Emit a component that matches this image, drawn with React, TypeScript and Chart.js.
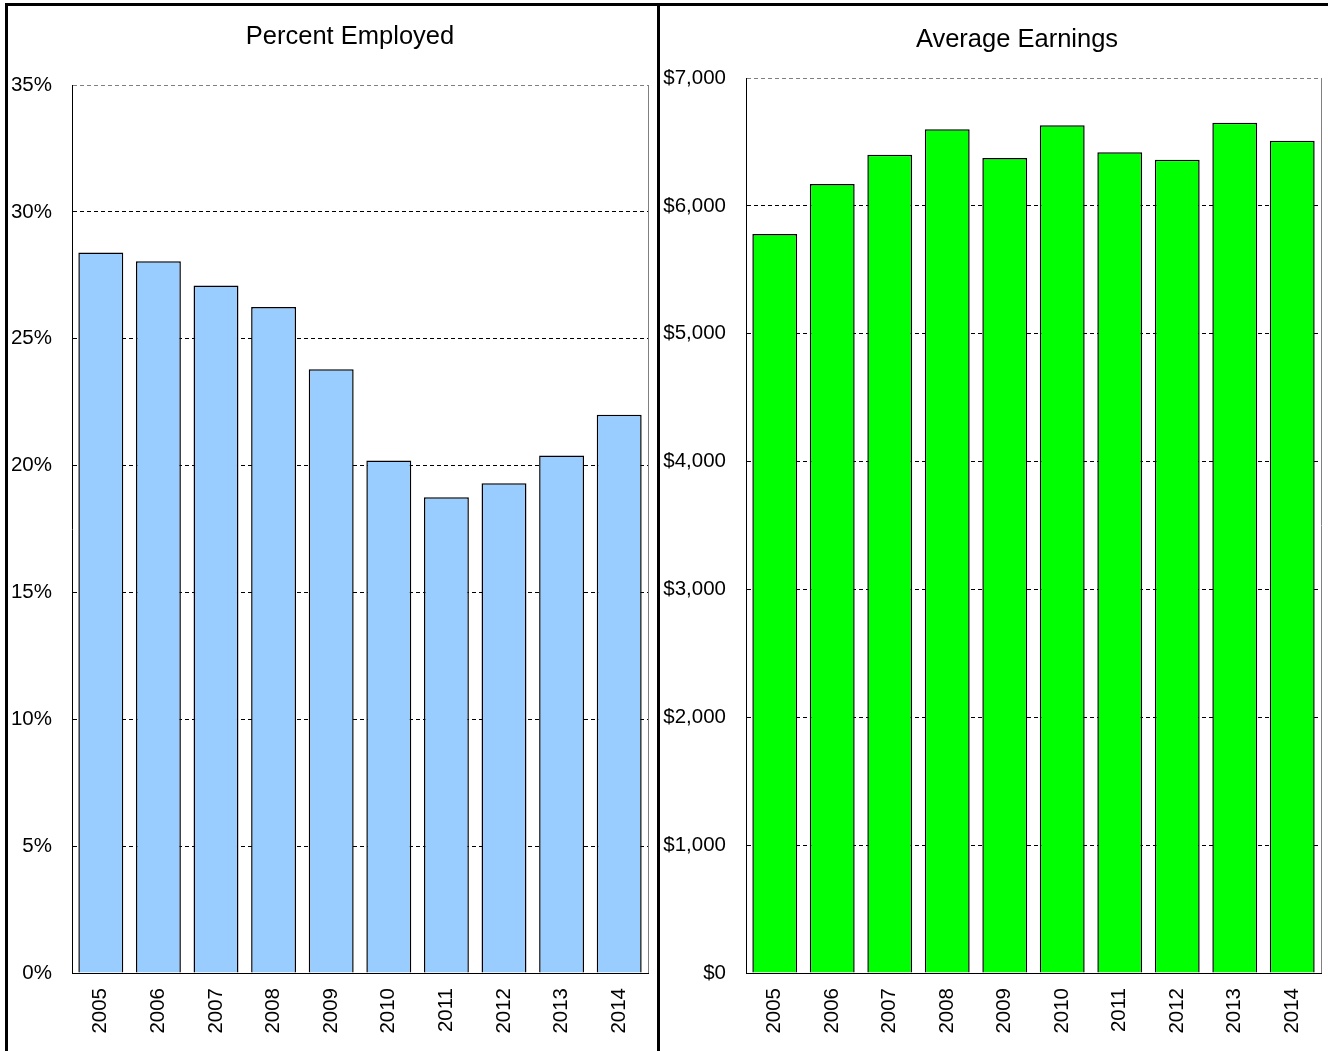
import React, { useEffect, useRef } from "react";
import { Chart, registerables } from "chart.js";

Chart.register(...registerables);

const years = ["2005", "2006", "2007", "2008", "2009", "2010", "2011", "2012", "2013", "2014"];
const percentEmployed = [28.4, 28.05, 27.1, 26.25, 23.8, 20.2, 18.75, 19.3, 20.4, 22.0];
const averageEarnings = [5780, 6170, 6400, 6600, 6375, 6630, 6420, 6360, 6650, 6510];
const percentTicks = [0, 5, 10, 15, 20, 25, 30, 35];
const earningsTicks = [0, 1000, 2000, 3000, 4000, 5000, 6000, 7000];

const FONT = '"Liberation Sans", Arial, sans-serif';

const framePlugin = {
  id: "frame",
  afterDraw(chart: any, _args: any, opts: any) {
    const { ctx, chartArea } = chart;
    ctx.save();
    ctx.strokeStyle = "#808080";
    ctx.lineWidth = 1;
    ctx.beginPath();
    const x = Math.round(chartArea.right) + 0.5;
    ctx.moveTo(x, chartArea.top);
    ctx.lineTo(x, chartArea.bottom);
    ctx.stroke();
    ctx.fillStyle = "#000";
    ctx.font = `25.5px ${FONT}`;
    ctx.textAlign = "center";
    ctx.textBaseline = "alphabetic";
    ctx.fillText(opts.text, opts.x, opts.y);
    ctx.restore();
  },
};

function makeConfig(
  data: number[],
  color: string,
  max: number,
  step: number,
  fmt: (v: number) => string,
  axisWidth: number,
  padTop: number,
  padRight: number,
  title: string,
  titleX: number,
  titleY: number
): any {
  return {
    type: "bar",
    data: {
      labels: years,
      datasets: [
        {
          data,
          backgroundColor: color,
          borderColor: "#000",
          borderWidth: 1.5,
          barPercentage: 0.78,
          categoryPercentage: 1,
        },
      ],
    },
    plugins: [framePlugin],
    options: {
      animation: false,
      responsive: false,
      maintainAspectRatio: false,
      layout: { padding: { top: padTop, right: padRight, left: 0, bottom: 0 } },
      plugins: {
        legend: { display: false },
        title: { display: false },
        tooltip: { enabled: false },
        frame: { text: title, x: titleX, y: titleY },
      },
      scales: {
        x: {
          ticks: {
            minRotation: 90,
            maxRotation: 90,
            padding: 15,
            color: "#000",
            font: { family: FONT, size: 20.5 },
          },
          grid: { display: false, drawTicks: false },
          border: { display: true, color: "#000", width: 1 },
          afterFit: (s: any) => {
            s.height = 78;
            s.paddingLeft = 0;
            s.paddingRight = 0;
          },
        },
        y: {
          min: 0,
          max,
          ticks: {
            stepSize: step,
            padding: 20,
            color: "#000",
            font: { family: FONT, size: 20.5 },
            callback: (v: any) => fmt(Number(v)),
          },
          grid: {
            drawTicks: false,
            lineWidth: 1,
            color: (c: any) => (c.tick && c.tick.value === max ? "#808080" : "#000"),
          },
          border: { display: true, color: "#000", width: 1, dash: [4, 3] },
          afterFit: (s: any) => {
            s.width = axisWidth;
          },
        },
      },
    },
  };
}

export default function App() {
  const leftRef = useRef<HTMLCanvasElement | null>(null);
  const rightRef = useRef<HTMLCanvasElement | null>(null);

  useEffect(() => {
    const pctMax = percentTicks[percentTicks.length - 1];
    const earnMax = earningsTicks[earningsTicks.length - 1];
    const left = new Chart(
      leftRef.current as HTMLCanvasElement,
      makeConfig(
        percentEmployed,
        "#99CCFF",
        pctMax,
        percentTicks[1] - percentTicks[0],
        (v) => `${v}%`,
        72,
        85,
        9,
        "Percent Employed",
        350,
        44
      )
    );
    const right = new Chart(
      rightRef.current as HTMLCanvasElement,
      makeConfig(
        averageEarnings,
        "#00FF00",
        earnMax,
        earningsTicks[1] - earningsTicks[0],
        (v) => `$${v.toLocaleString("en-US")}`,
        86,
        78,
        7,
        "Average Earnings",
        357,
        47
      )
    );
    return () => {
      left.destroy();
      right.destroy();
    };
  }, []);

  const bar = (style: React.CSSProperties) => (
    <div style={{ position: "absolute", background: "#000", ...style }} />
  );

  return (
    <div
      style={{
        position: "fixed",
        left: 0,
        top: 0,
        width: 1328,
        height: 1051,
        background: "#fff",
        overflow: "hidden",
      }}
    >
      <canvas
        ref={leftRef}
        width={657}
        height={1051}
        style={{ position: "absolute", left: 0, top: 0, width: 657, height: 1051 }}
      />
      <canvas
        ref={rightRef}
        width={668}
        height={1051}
        style={{ position: "absolute", left: 660, top: 0, width: 668, height: 1051 }}
      />
      {bar({ left: 5, top: 3, width: 1323, height: 3 })}
      {bar({ left: 5, top: 3, width: 3, height: 1048 })}
      {bar({ left: 657, top: 3, width: 3, height: 1048 })}
    </div>
  );
}
